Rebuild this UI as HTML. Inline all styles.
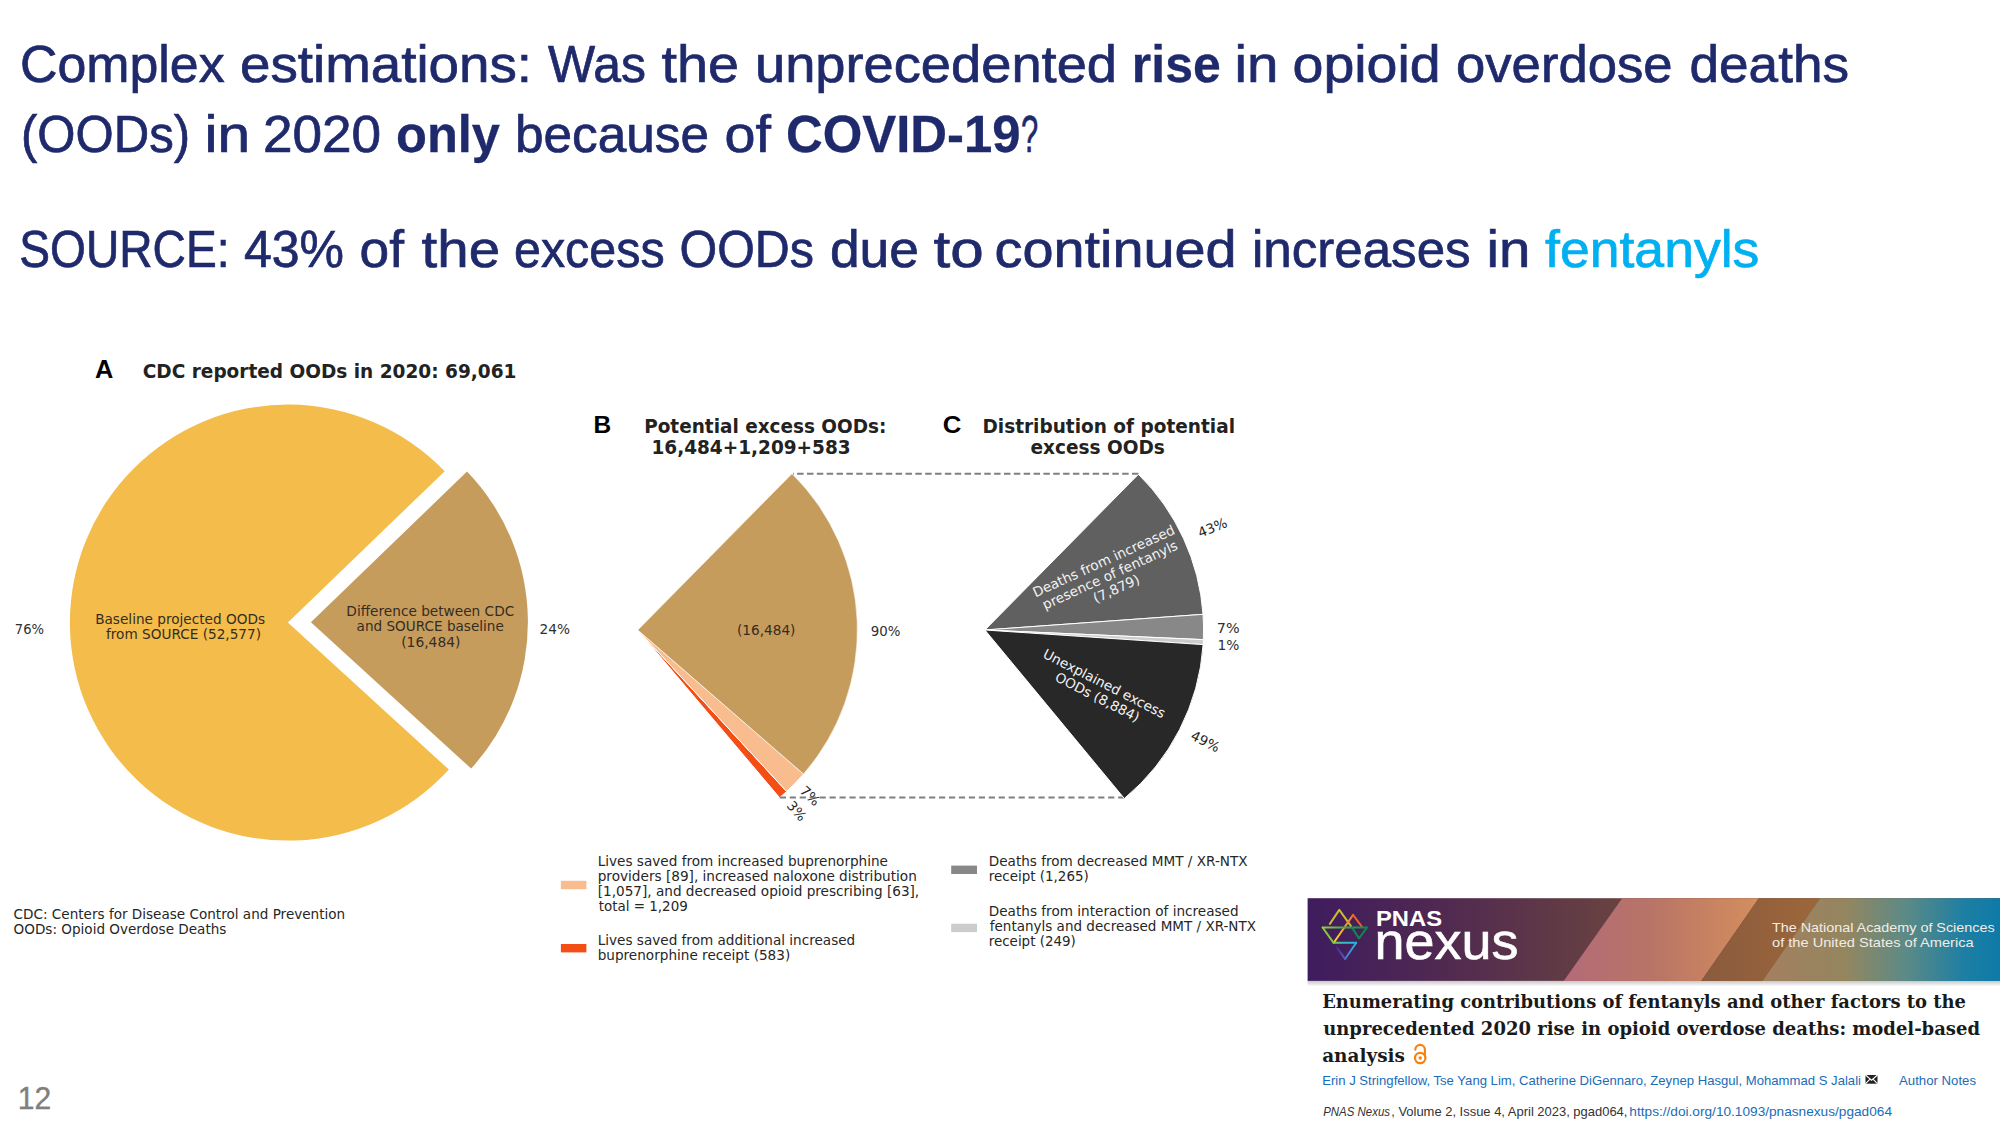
<!DOCTYPE html>
<html lang="en"><head><meta charset="utf-8"><title>Complex estimations</title>
<style>html,body{margin:0;padding:0;background:#fff}body{width:2000px;height:1128px;overflow:hidden}svg{display:block}</style>
</head><body>
<svg width="2000" height="1128" viewBox="0 0 2000 1128">
<rect width="2000" height="1128" fill="#fff"/>
<text x="19.98" y="81.50" font-size="51.5" font-family='"Liberation Sans", sans-serif' fill="#1f2a6c" textLength="204.63" lengthAdjust="spacingAndGlyphs" stroke="#1f2a6c" stroke-width="0.7">Complex</text>
<text x="239.96" y="81.50" font-size="51.5" font-family='"Liberation Sans", sans-serif' fill="#1f2a6c" textLength="292.13" lengthAdjust="spacingAndGlyphs" stroke="#1f2a6c" stroke-width="0.7">estimations:</text>
<text x="548.01" y="81.50" font-size="51.5" font-family='"Liberation Sans", sans-serif' fill="#1f2a6c" textLength="98.01" lengthAdjust="spacingAndGlyphs" stroke="#1f2a6c" stroke-width="0.7">Was</text>
<text x="661.59" y="81.50" font-size="51.5" font-family='"Liberation Sans", sans-serif' fill="#1f2a6c" textLength="77.46" lengthAdjust="spacingAndGlyphs" stroke="#1f2a6c" stroke-width="0.7">the</text>
<text x="754.96" y="81.50" font-size="51.5" font-family='"Liberation Sans", sans-serif' fill="#1f2a6c" textLength="362.09" lengthAdjust="spacingAndGlyphs" stroke="#1f2a6c" stroke-width="0.7">unprecedented</text>
<text x="1131.82" y="81.50" font-size="51.5" font-family='"Liberation Sans", sans-serif' fill="#1f2a6c" font-weight="bold" textLength="88.90" lengthAdjust="spacingAndGlyphs" stroke="#1f2a6c" stroke-width="0.3">rise</text>
<text x="1234.53" y="81.50" font-size="51.5" font-family='"Liberation Sans", sans-serif' fill="#1f2a6c" textLength="43.98" lengthAdjust="spacingAndGlyphs" stroke="#1f2a6c" stroke-width="0.7">in</text>
<text x="1292.56" y="81.50" font-size="51.5" font-family='"Liberation Sans", sans-serif' fill="#1f2a6c" textLength="148.13" lengthAdjust="spacingAndGlyphs" stroke="#1f2a6c" stroke-width="0.7">opioid</text>
<text x="1455.97" y="81.50" font-size="51.5" font-family='"Liberation Sans", sans-serif' fill="#1f2a6c" textLength="216.66" lengthAdjust="spacingAndGlyphs" stroke="#1f2a6c" stroke-width="0.7">overdose</text>
<text x="1689.56" y="81.50" font-size="51.5" font-family='"Liberation Sans", sans-serif' fill="#1f2a6c" textLength="159.48" lengthAdjust="spacingAndGlyphs" stroke="#1f2a6c" stroke-width="0.7">deaths</text>
<text x="20.95" y="152.00" font-size="51.5" font-family='"Liberation Sans", sans-serif' fill="#1f2a6c" textLength="169.10" lengthAdjust="spacingAndGlyphs" stroke="#1f2a6c" stroke-width="0.7">(OODs)</text>
<text x="204.42" y="152.00" font-size="51.5" font-family='"Liberation Sans", sans-serif' fill="#1f2a6c" textLength="45.65" lengthAdjust="spacingAndGlyphs" stroke="#1f2a6c" stroke-width="0.7">in</text>
<text x="262.94" y="152.00" font-size="51.5" font-family='"Liberation Sans", sans-serif' fill="#1f2a6c" textLength="118.12" lengthAdjust="spacingAndGlyphs" stroke="#1f2a6c" stroke-width="0.7">2020</text>
<text x="395.97" y="152.00" font-size="51.5" font-family='"Liberation Sans", sans-serif' fill="#1f2a6c" font-weight="bold" textLength="104.03" lengthAdjust="spacingAndGlyphs" stroke="#1f2a6c" stroke-width="0.3">only</text>
<text x="514.92" y="152.00" font-size="51.5" font-family='"Liberation Sans", sans-serif' fill="#1f2a6c" textLength="194.14" lengthAdjust="spacingAndGlyphs" stroke="#1f2a6c" stroke-width="0.7">because</text>
<text x="724.55" y="152.00" font-size="51.5" font-family='"Liberation Sans", sans-serif' fill="#1f2a6c" textLength="46.43" lengthAdjust="spacingAndGlyphs" stroke="#1f2a6c" stroke-width="0.7">of</text>
<text x="785.97" y="152.00" font-size="51.5" font-family='"Liberation Sans", sans-serif' fill="#1f2a6c" font-weight="bold" textLength="234.66" lengthAdjust="spacingAndGlyphs" stroke="#1f2a6c" stroke-width="0.3">COVID-19</text>
<text x="1020.89" y="152.00" font-size="51.5" font-family='"Liberation Sans", sans-serif' fill="#1f2a6c" textLength="17.25" lengthAdjust="spacingAndGlyphs" stroke="#1f2a6c" stroke-width="0.7">?</text>
<text x="19.35" y="266.50" font-size="51.5" font-family='"Liberation Sans", sans-serif' fill="#1f2a6c" textLength="210.14" lengthAdjust="spacingAndGlyphs" stroke="#1f2a6c" stroke-width="0.7">SOURCE:</text>
<text x="243.98" y="266.50" font-size="51.5" font-family='"Liberation Sans", sans-serif' fill="#1f2a6c" textLength="100.04" lengthAdjust="spacingAndGlyphs" stroke="#1f2a6c" stroke-width="0.7">43%</text>
<text x="359.55" y="266.50" font-size="51.5" font-family='"Liberation Sans", sans-serif' fill="#1f2a6c" textLength="44.44" lengthAdjust="spacingAndGlyphs" stroke="#1f2a6c" stroke-width="0.7">of</text>
<text x="421.59" y="266.50" font-size="51.5" font-family='"Liberation Sans", sans-serif' fill="#1f2a6c" textLength="78.46" lengthAdjust="spacingAndGlyphs" stroke="#1f2a6c" stroke-width="0.7">the</text>
<text x="513.97" y="266.50" font-size="51.5" font-family='"Liberation Sans", sans-serif' fill="#1f2a6c" textLength="150.65" lengthAdjust="spacingAndGlyphs" stroke="#1f2a6c" stroke-width="0.7">excess</text>
<text x="679.56" y="266.50" font-size="51.5" font-family='"Liberation Sans", sans-serif' fill="#1f2a6c" textLength="134.46" lengthAdjust="spacingAndGlyphs" stroke="#1f2a6c" stroke-width="0.7">OODs</text>
<text x="829.91" y="266.50" font-size="51.5" font-family='"Liberation Sans", sans-serif' fill="#1f2a6c" textLength="89.16" lengthAdjust="spacingAndGlyphs" stroke="#1f2a6c" stroke-width="0.7">due</text>
<text x="933.58" y="266.50" font-size="51.5" font-family='"Liberation Sans", sans-serif' fill="#1f2a6c" textLength="50.17" lengthAdjust="spacingAndGlyphs" stroke="#1f2a6c" stroke-width="0.7">to</text>
<text x="994.56" y="266.50" font-size="51.5" font-family='"Liberation Sans", sans-serif' fill="#1f2a6c" textLength="242.10" lengthAdjust="spacingAndGlyphs" stroke="#1f2a6c" stroke-width="0.7">continued</text>
<text x="1251.95" y="266.50" font-size="51.5" font-family='"Liberation Sans", sans-serif' fill="#1f2a6c" textLength="218.67" lengthAdjust="spacingAndGlyphs" stroke="#1f2a6c" stroke-width="0.7">increases</text>
<text x="1486.55" y="266.50" font-size="51.5" font-family='"Liberation Sans", sans-serif' fill="#1f2a6c" textLength="43.91" lengthAdjust="spacingAndGlyphs" stroke="#1f2a6c" stroke-width="0.7">in</text>
<text x="1545.00" y="266.50" font-size="51.5" font-family='"Liberation Sans", sans-serif' fill="#00b0f0" textLength="214.41" lengthAdjust="spacingAndGlyphs" stroke="#00b0f0" stroke-width="0.7">fentanyls</text>
<path d="M287.9 622.6L444.72 471.16A218.0 218.0 0 1 0 448.88 769.60Z" fill="#f4bc4a"/>
<path d="M310.90 622.30L467.00 471.56A217 217 0 0 1 471.14 768.62Z" fill="#c69c5d"/>
<text x="94.98" y="378.00" font-size="25.4" font-family='"Liberation Sans", sans-serif' fill="#000" font-weight="bold" textLength="18.30" lengthAdjust="spacingAndGlyphs">A</text>
<text x="142.79" y="377.70" font-size="19.0" font-family='"DejaVu Sans", "Liberation Sans", sans-serif' fill="#222" font-weight="bold" textLength="373.61" lengthAdjust="spacingAndGlyphs">CDC reported OODs in 2020: 69,061</text>
<text x="14.86" y="634.30" font-size="13.4" font-family='"DejaVu Sans", "Liberation Sans", sans-serif' fill="#303030" textLength="29.22" lengthAdjust="spacingAndGlyphs">76%</text>
<text x="539.45" y="634.30" font-size="13.4" font-family='"DejaVu Sans", "Liberation Sans", sans-serif' fill="#303030" textLength="30.48" lengthAdjust="spacingAndGlyphs">24%</text>
<text x="95.18" y="623.90" font-size="13.4" font-family='"DejaVu Sans", "Liberation Sans", sans-serif' fill="#352c1f" textLength="169.82" lengthAdjust="spacingAndGlyphs">Baseline projected OODs</text>
<text x="106.00" y="639.40" font-size="13.4" font-family='"DejaVu Sans", "Liberation Sans", sans-serif' fill="#352c1f" textLength="155.01" lengthAdjust="spacingAndGlyphs">from SOURCE (52,577)</text>
<text x="346.39" y="615.80" font-size="13.4" font-family='"DejaVu Sans", "Liberation Sans", sans-serif' fill="#352c1f" textLength="167.83" lengthAdjust="spacingAndGlyphs">Difference between CDC</text>
<text x="356.59" y="631.20" font-size="13.4" font-family='"DejaVu Sans", "Liberation Sans", sans-serif' fill="#352c1f" textLength="147.22" lengthAdjust="spacingAndGlyphs">and SOURCE baseline</text>
<text x="401.18" y="647.10" font-size="13.4" font-family='"DejaVu Sans", "Liberation Sans", sans-serif' fill="#352c1f" textLength="59.27" lengthAdjust="spacingAndGlyphs">(16,484)</text>
<text x="13.59" y="919.20" font-size="13.4" font-family='"DejaVu Sans", "Liberation Sans", sans-serif' fill="#262626" textLength="331.61" lengthAdjust="spacingAndGlyphs">CDC: Centers for Disease Control and Prevention</text>
<text x="13.59" y="934.20" font-size="13.4" font-family='"DejaVu Sans", "Liberation Sans", sans-serif' fill="#262626" textLength="212.81" lengthAdjust="spacingAndGlyphs">OODs: Opioid Overdose Deaths</text>
<path d="M637.80 630.00L786.62 791.48A219.6 219.6 0 0 1 779.58 797.70Z" fill="#f24e16" stroke="#fff" stroke-width="1" stroke-linejoin="round"/>
<path d="M637.80 630.00L803.53 774.07A219.6 219.6 0 0 1 786.62 791.48Z" fill="#f8bc8e" stroke="#fff" stroke-width="1" stroke-linejoin="round"/>
<path d="M637.80 630.00L791.99 473.64A219.6 219.6 0 0 1 803.53 774.07Z" fill="#c69c5d" stroke="#fff" stroke-width="0.6" stroke-linejoin="round"/>
<text x="593.44" y="432.90" font-size="24.6" font-family='"Liberation Sans", sans-serif' fill="#000" font-weight="bold" textLength="17.68" lengthAdjust="spacingAndGlyphs">B</text>
<text x="644.18" y="432.70" font-size="19.0" font-family='"DejaVu Sans", "Liberation Sans", sans-serif' fill="#222" font-weight="bold" textLength="242.22" lengthAdjust="spacingAndGlyphs">Potential excess OODs:</text>
<text x="651.47" y="453.90" font-size="19.0" font-family='"DejaVu Sans", "Liberation Sans", sans-serif' fill="#222" font-weight="bold" textLength="199.12" lengthAdjust="spacingAndGlyphs">16,484+1,209+583</text>
<text x="737.04" y="635.00" font-size="13.4" font-family='"DejaVu Sans", "Liberation Sans", sans-serif' fill="#352c1f" textLength="58.36" lengthAdjust="spacingAndGlyphs">(16,484)</text>
<text x="870.75" y="636.20" font-size="13.4" font-family='"DejaVu Sans", "Liberation Sans", sans-serif' fill="#303030" textLength="29.72" lengthAdjust="spacingAndGlyphs">90%</text>
<text x="810.20" y="800.60" font-size="13.6" font-family='"DejaVu Sans", "Liberation Sans", sans-serif' fill="#262626" text-anchor="middle" transform="rotate(44 810.2 795.7)">7%</text>
<text x="796.80" y="815.80" font-size="13.6" font-family='"DejaVu Sans", "Liberation Sans", sans-serif' fill="#262626" text-anchor="middle" transform="rotate(49 796.8 811.0)">3%</text>
<path d="M1138.5 473.8H793" stroke="#7f7f7f" stroke-width="2" stroke-dasharray="6.45 3.4" fill="none"/>
<path d="M779.8 797.5H1125.5" stroke="#7f7f7f" stroke-width="2" stroke-dasharray="6.2 3.75" fill="none"/>
<path d="M984.90 630.00L1138.46 474.28A218.7 218.7 0 0 1 1203.04 614.34Z" fill="#606060" stroke="#fff" stroke-width="1" stroke-linejoin="round"/>
<path d="M984.90 630.00L1203.04 614.34A218.7 218.7 0 0 1 1203.39 639.64Z" fill="#888888" stroke="#fff" stroke-width="1" stroke-linejoin="round"/>
<path d="M984.90 630.00L1203.39 639.64A218.7 218.7 0 0 1 1203.11 644.61Z" fill="#cccccc" stroke="#fff" stroke-width="1" stroke-linejoin="round"/>
<path d="M984.90 630.00L1203.11 644.61A218.7 218.7 0 0 1 1124.33 798.49Z" fill="#282828" stroke="#fff" stroke-width="1" stroke-linejoin="round"/>
<text x="942.86" y="432.90" font-size="24.6" font-family='"Liberation Sans", sans-serif' fill="#000" font-weight="bold" textLength="18.59" lengthAdjust="spacingAndGlyphs">C</text>
<text x="982.48" y="432.70" font-size="19.0" font-family='"DejaVu Sans", "Liberation Sans", sans-serif' fill="#222" font-weight="bold" textLength="252.52" lengthAdjust="spacingAndGlyphs">Distribution of potential</text>
<text x="1030.59" y="453.90" font-size="19.0" font-family='"DejaVu Sans", "Liberation Sans", sans-serif' fill="#222" font-weight="bold" textLength="134.22" lengthAdjust="spacingAndGlyphs">excess OODs</text>
<text x="1216.84" y="633.30" font-size="13.4" font-family='"DejaVu Sans", "Liberation Sans", sans-serif' fill="#303030" textLength="22.85" lengthAdjust="spacingAndGlyphs">7%</text>
<text x="1217.47" y="649.50" font-size="13.4" font-family='"DejaVu Sans", "Liberation Sans", sans-serif' fill="#303030" textLength="21.87" lengthAdjust="spacingAndGlyphs">1%</text>
<text x="1212.20" y="532.50" font-size="13.6" font-family='"DejaVu Sans", "Liberation Sans", sans-serif' fill="#262626" text-anchor="middle" transform="rotate(-22 1212.2 527.3)">43%</text>
<text x="1205.60" y="746.30" font-size="13.6" font-family='"DejaVu Sans", "Liberation Sans", sans-serif' fill="#262626" text-anchor="middle" transform="rotate(27 1205.6 741.1)">49%</text>
<g transform="rotate(-24.5 1110 575)">
<text x="1110.00" y="564.50" font-size="13.6" font-family='"DejaVu Sans", "Liberation Sans", sans-serif' fill="#f2f2f2" text-anchor="middle">Deaths from increased</text>
<text x="1110.00" y="579.70" font-size="13.6" font-family='"DejaVu Sans", "Liberation Sans", sans-serif' fill="#f2f2f2" text-anchor="middle">presence of fentanyls</text>
<text x="1110.00" y="594.90" font-size="13.6" font-family='"DejaVu Sans", "Liberation Sans", sans-serif' fill="#f2f2f2" text-anchor="middle">(7,879)</text>
</g>
<g transform="rotate(27 1100.8 690.4)">
<text x="1100.80" y="687.40" font-size="13.6" font-family='"DejaVu Sans", "Liberation Sans", sans-serif' fill="#f2f2f2" text-anchor="middle">Unexplained excess</text>
<text x="1100.80" y="702.60" font-size="13.6" font-family='"DejaVu Sans", "Liberation Sans", sans-serif' fill="#f2f2f2" text-anchor="middle">OODs (8,884)</text>
</g>
<rect x="560.9" y="880.8" width="25.5" height="8.4" fill="#f8bc8e"/>
<rect x="560.9" y="944.0" width="25.5" height="8.4" fill="#f24e16"/>
<rect x="951.2" y="865.6" width="25.8" height="8.4" fill="#888888"/>
<rect x="951.2" y="923.7" width="25.8" height="8.4" fill="#cccccc"/>
<text x="597.69" y="865.80" font-size="13.4" font-family='"DejaVu Sans", "Liberation Sans", sans-serif' fill="#262626" textLength="290.31" lengthAdjust="spacingAndGlyphs">Lives saved from increased buprenorphine</text>
<text x="597.69" y="881.00" font-size="13.4" font-family='"DejaVu Sans", "Liberation Sans", sans-serif' fill="#262626" textLength="319.12" lengthAdjust="spacingAndGlyphs">providers [89], increased naloxone distribution</text>
<text x="597.69" y="896.20" font-size="13.4" font-family='"DejaVu Sans", "Liberation Sans", sans-serif' fill="#262626" textLength="321.51" lengthAdjust="spacingAndGlyphs">[1,057], and decreased opioid prescribing [63],</text>
<text x="598.69" y="911.40" font-size="13.4" font-family='"DejaVu Sans", "Liberation Sans", sans-serif' fill="#262626" textLength="89.12" lengthAdjust="spacingAndGlyphs">total = 1,209</text>
<text x="597.69" y="945.00" font-size="13.4" font-family='"DejaVu Sans", "Liberation Sans", sans-serif' fill="#262626" textLength="257.52" lengthAdjust="spacingAndGlyphs">Lives saved from additional increased</text>
<text x="597.69" y="960.10" font-size="13.4" font-family='"DejaVu Sans", "Liberation Sans", sans-serif' fill="#262626" textLength="192.52" lengthAdjust="spacingAndGlyphs">buprenorphine receipt (583)</text>
<text x="988.79" y="865.80" font-size="13.4" font-family='"DejaVu Sans", "Liberation Sans", sans-serif' fill="#262626" textLength="258.81" lengthAdjust="spacingAndGlyphs">Deaths from decreased MMT / XR-NTX</text>
<text x="988.76" y="881.00" font-size="13.4" font-family='"DejaVu Sans", "Liberation Sans", sans-serif' fill="#262626" textLength="100.04" lengthAdjust="spacingAndGlyphs">receipt (1,265)</text>
<text x="988.79" y="916.40" font-size="13.4" font-family='"DejaVu Sans", "Liberation Sans", sans-serif' fill="#262626" textLength="249.82" lengthAdjust="spacingAndGlyphs">Deaths from interaction of increased</text>
<text x="989.79" y="931.00" font-size="13.4" font-family='"DejaVu Sans", "Liberation Sans", sans-serif' fill="#262626" textLength="266.21" lengthAdjust="spacingAndGlyphs">fentanyls and decreased MMT / XR-NTX</text>
<text x="988.76" y="946.30" font-size="13.4" font-family='"DejaVu Sans", "Liberation Sans", sans-serif' fill="#262626" textLength="87.04" lengthAdjust="spacingAndGlyphs">receipt (249)</text>
<text x="17.81" y="1108.60" font-size="30.7" font-family='"Liberation Sans", sans-serif' fill="#7f7f7f" textLength="33.39" lengthAdjust="spacingAndGlyphs" stroke="#7f7f7f" stroke-width="0.4">12</text>
<defs>
<linearGradient id="g1" x1="1307" x2="1622" gradientUnits="userSpaceOnUse"><stop offset="0" stop-color="#3e1c5e"/><stop offset="0.45" stop-color="#512a50"/><stop offset="1" stop-color="#694340"/></linearGradient>
<linearGradient id="g2" x1="1565" x2="1758" gradientUnits="userSpaceOnUse"><stop offset="0" stop-color="#b46b78"/><stop offset="0.45" stop-color="#b87466"/><stop offset="1" stop-color="#d48e5e"/></linearGradient>
<linearGradient id="g3" x1="1701" x2="1820" gradientUnits="userSpaceOnUse"><stop offset="0" stop-color="#8a5a3e"/><stop offset="1" stop-color="#9c673a"/></linearGradient>
<linearGradient id="g4" x1="1762" x2="2000" gradientUnits="userSpaceOnUse"><stop offset="0" stop-color="#a37f60"/><stop offset="0.35" stop-color="#94865f"/><stop offset="0.6" stop-color="#5d8a86"/><stop offset="0.85" stop-color="#1d7fa3"/><stop offset="1" stop-color="#0e7aa8"/></linearGradient>
<linearGradient id="sh" x1="0" x2="0" y1="980.9" y2="986.5" gradientUnits="userSpaceOnUse"><stop offset="0" stop-color="#000" stop-opacity="0.22"/><stop offset="1" stop-color="#000" stop-opacity="0"/></linearGradient>
<linearGradient id="ig2" x1="1322.7" x2="1366.8" gradientUnits="userSpaceOnUse"><stop offset="0" stop-color="#9ccb3c"/><stop offset="0.55" stop-color="#3aa648"/><stop offset="1" stop-color="#0d8a4c"/></linearGradient>
<linearGradient id="ig3" x1="1333.6" x2="1356.2" gradientUnits="userSpaceOnUse"><stop offset="0" stop-color="#8fc63e"/><stop offset="0.35" stop-color="#35c0b8"/><stop offset="1" stop-color="#27b4e0"/></linearGradient>
<linearGradient id="ig4" x1="1356.2" y1="942.8" x2="1345.1" y2="959" gradientUnits="userSpaceOnUse"><stop offset="0" stop-color="#27b4e0"/><stop offset="1" stop-color="#4a78d0"/></linearGradient>
<linearGradient id="ig5" x1="1345.1" y1="959" x2="1336.7" y2="947.2" gradientUnits="userSpaceOnUse"><stop offset="0" stop-color="#5560c4"/><stop offset="1" stop-color="#4a2a8a"/></linearGradient>
<linearGradient id="ig1" x1="1334.8" y1="941.3" x2="1353.1" y2="914.9" gradientUnits="userSpaceOnUse"><stop offset="0" stop-color="#ffd028"/><stop offset="1" stop-color="#f0702c"/></linearGradient>
</defs>
<rect x="1307.6" y="980.9" width="692.4000000000001" height="5" fill="url(#sh)"/>
<rect x="1307.6" y="898.2" width="692.4000000000001" height="82.7" fill="url(#g1)"/>
<path d="M1622.2 898.2L1758.8 898.2L1701.2 980.9L1563.7 980.9Z" fill="url(#g2)"/>
<path d="M1758.8 898.2L1820 898.2L1762.4 980.9L1701.2 980.9Z" fill="url(#g3)"/>
<path d="M1820 898.2L2000 898.2L2000 980.9L1762.4 980.9Z" fill="url(#g4)"/>
<g fill="none" stroke-width="2.0" stroke-linecap="round" stroke-linejoin="round">
<path d="M1329.9 923.9L1339.3 909.9L1351 926.1" stroke="#cdb836"/>
<path d="M1334.8 941.3L1353.1 914.9" stroke="url(#ig1)"/>
<path d="M1353.1 914.9L1361.8 926.7" stroke="#e8602c"/>
<path d="M1333.6 942.8L1322.7 927.6" stroke="#86c440"/>
<path d="M1322.7 927.6L1366.8 927.6" stroke="url(#ig2)"/>
<path d="M1366.8 927.6L1359 938.5L1352 927.6" stroke="#0d8a4c"/>
<path d="M1333.6 942.8L1356.2 942.8" stroke="url(#ig3)"/>
<path d="M1356.2 942.8L1345.1 959" stroke="url(#ig4)"/>
<path d="M1345.1 959L1336.7 947.2" stroke="url(#ig5)"/>
</g>
<text x="1375.97" y="925.80" font-size="21.2" font-family='"Liberation Sans", sans-serif' fill="#fff" font-weight="bold" textLength="66.06" lengthAdjust="spacingAndGlyphs">PNAS</text>
<text x="1374.43" y="959.00" font-size="51.3" font-family='"Liberation Sans", sans-serif' fill="#fff" textLength="143.98" lengthAdjust="spacingAndGlyphs" stroke="#fff" stroke-width="0.6">nexus</text>
<text x="1772.00" y="931.70" font-size="13.3" font-family='"Liberation Sans", sans-serif' fill="#f3ece4" textLength="222.61" lengthAdjust="spacingAndGlyphs">The National Academy of Sciences</text>
<text x="1772.00" y="947.10" font-size="13.3" font-family='"Liberation Sans", sans-serif' fill="#f3ece4" textLength="201.61" lengthAdjust="spacingAndGlyphs">of the United States of America</text>
<text x="1322.20" y="1007.80" font-size="18.2" font-family='"DejaVu Serif", "Liberation Serif", serif' fill="#1a1a1a" font-weight="bold" textLength="643.81" lengthAdjust="spacingAndGlyphs">Enumerating contributions of fentanyls and other factors to the</text>
<text x="1323.20" y="1034.50" font-size="18.2" font-family='"DejaVu Serif", "Liberation Serif", serif' fill="#1a1a1a" font-weight="bold" textLength="656.80" lengthAdjust="spacingAndGlyphs">unprecedented 2020 rise in opioid overdose deaths: model-based</text>
<text x="1322.17" y="1062.30" font-size="18.2" font-family='"DejaVu Serif", "Liberation Serif", serif' fill="#1a1a1a" font-weight="bold" textLength="82.85" lengthAdjust="spacingAndGlyphs">analysis</text>
<g fill="none" stroke="#f7820f" stroke-width="2.2" stroke-linecap="round"><circle cx="1420.2" cy="1058" r="5.2"/><path d="M1415.3 1049.6A4.8 4.8 0 0 1 1424.9 1049.9V1056"/></g><circle cx="1420.2" cy="1058" r="1.7" fill="#f7820f"/>
<text x="1322.20" y="1084.70" font-size="12.8" font-family='"Liberation Sans", sans-serif' fill="#1a6cb8" textLength="538.81" lengthAdjust="spacingAndGlyphs">Erin J Stringfellow, Tse Yang Lim, Catherine DiGennaro, Zeynep Hasgul, Mohammad S Jalali</text>
<text x="1899.00" y="1084.70" font-size="12.8" font-family='"Liberation Sans", sans-serif' fill="#1a6cb8" textLength="77.00" lengthAdjust="spacingAndGlyphs">Author Notes</text>
<g><rect x="1865.5" y="1075" width="12" height="8.7" fill="#222"/><path d="M1865.5 1075L1871.5 1080.2L1877.5 1075M1865.5 1083.7L1869.8 1079.4M1877.5 1083.7L1873.2 1079.4" stroke="#fff" stroke-width="1.1" fill="none"/></g>
<text x="1323.19" y="1115.50" font-size="12.8" font-family='"Liberation Sans", sans-serif' fill="#333" font-style="italic" textLength="66.81" lengthAdjust="spacingAndGlyphs">PNAS Nexus</text>
<text x="1391.20" y="1115.50" font-size="12.8" font-family='"Liberation Sans", sans-serif' fill="#333" textLength="236.22" lengthAdjust="spacingAndGlyphs">, Volume 2, Issue 4, April 2023, pgad064,</text>
<text x="1629.39" y="1115.50" font-size="12.8" font-family='"Liberation Sans", sans-serif' fill="#1a6cb8" textLength="262.61" lengthAdjust="spacingAndGlyphs">https://doi.org/10.1093/pnasnexus/pgad064</text>
</svg>
</body></html>
